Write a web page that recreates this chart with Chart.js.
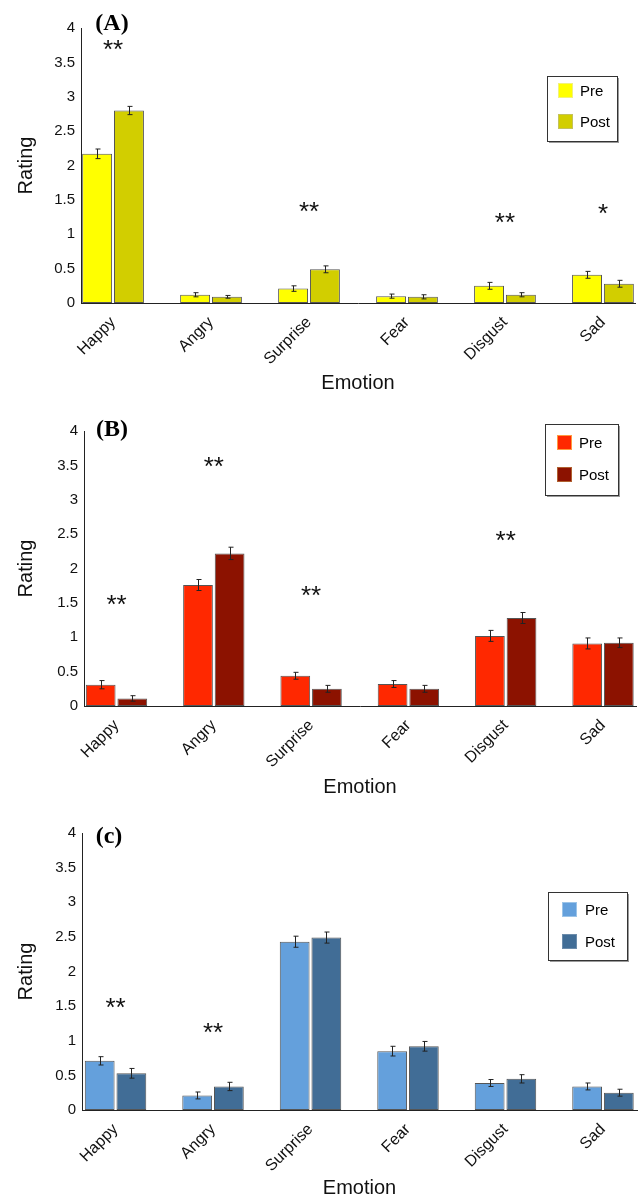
<!DOCTYPE html>
<html>
<head>
<meta charset="utf-8">
<script src="https://cdn.jsdelivr.net/npm/chart.js@4.4.1/dist/chart.umd.min.js"></script>
<style>
html,body{margin:0;padding:0;background:#fff;overflow:hidden;width:640px;height:1198px;}
.panel{position:absolute;left:0;width:640px;height:400px;}
canvas{display:block;}
</style>
</head>
<body>
<div class="panel" style="top:0"><canvas id="cA" width="640" height="400"></canvas></div>
<div class="panel" style="top:400px"><canvas id="cB" width="640" height="400"></canvas></div>
<div class="panel" style="top:800px"><canvas id="cC" width="640" height="400"></canvas></div>
<script>
// ---------- data ----------
const categories = ['Happy', 'Angry', 'Surprise', 'Fear', 'Disgust', 'Sad'];
const seriesNames = ['Pre', 'Post'];
const yTicks = [0, 0.5, 1, 1.5, 2, 2.5, 3, 3.5, 4];
const panelLabels = ['(A)', '(B)', '(c)'];
const xTitle = 'Emotion';
const yTitle = 'Rating';

const preA  = [2.17, 0.12, 0.21, 0.10, 0.25, 0.41];
const postA = [2.80, 0.09, 0.49, 0.09, 0.12, 0.28];
const errPreA  = [0.07, 0.03, 0.04, 0.03, 0.05, 0.05];
const errPostA = [0.06, 0.02, 0.05, 0.03, 0.03, 0.05];
const starsA  = ['**', '', '**', '', '**', '*'];
const starYA  = [3.72, null, 1.37, null, 1.21, 1.34];

const preB  = [0.31, 1.76, 0.44, 0.32, 1.02, 0.91];
const postB = [0.11, 2.22, 0.25, 0.25, 1.28, 0.92];
const errPreB  = [0.06, 0.08, 0.05, 0.05, 0.08, 0.08];
const errPostB = [0.04, 0.09, 0.05, 0.05, 0.08, 0.07];
const starsB  = ['**', '**', '**', '', '**', ''];
const starYB  = [1.51, 3.52, 1.65, null, 2.45, null];

const preC  = [0.71, 0.21, 2.43, 0.85, 0.39, 0.34];
const postC = [0.53, 0.34, 2.49, 0.92, 0.45, 0.25];
const errPreC  = [0.06, 0.05, 0.08, 0.07, 0.05, 0.05];
const errPostC = [0.07, 0.06, 0.08, 0.07, 0.06, 0.05];
const starsC  = ['**', '**', '', '', '', ''];
const starYC  = [1.52, 1.16, null, null, null, null];

// ---------- plugins ----------
const FONT = "'Liberation Sans', Arial, sans-serif";

const errorBarPlugin = {
  id: 'errorBars',
  afterDatasetsDraw(chart, args, opts) {
    const ctx = chart.ctx, y = chart.scales.y;
    ctx.save();
    ctx.strokeStyle = opts.color || '#222';
    ctx.lineWidth = 1;
    chart.data.datasets.forEach((ds, di) => {
      const meta = chart.getDatasetMeta(di);
      meta.data.forEach((bar, i) => {
        const v = ds.data[i].y, e = ds.errors[i];
        const x = Math.round(bar.x) + 0.5;
        const t = y.getPixelForValue(v + e), b = y.getPixelForValue(v - e);
        const c = 2;
        ctx.beginPath();
        ctx.moveTo(x, t); ctx.lineTo(x, b);
        ctx.moveTo(x - c, t); ctx.lineTo(x + c + 1, t);
        ctx.moveTo(x - c, b); ctx.lineTo(x + c + 1, b);
        ctx.stroke();
      });
    });
    ctx.restore();
  }
};

const starPlugin = {
  id: 'stars',
  afterDatasetsDraw(chart, args, opts) {
    const ctx = chart.ctx, xs = chart.scales.x, ys = chart.scales.y;
    ctx.save();
    ctx.fillStyle = '#111';
    ctx.font = opts.size + 'px ' + FONT;
    ctx.textAlign = 'center';
    ctx.textBaseline = 'alphabetic';
    opts.marks.forEach((m, i) => {
      if (!m) return;
      const px = xs.getPixelForValue(i);
      const py = ys.getPixelForValue(opts.ys[i]) + opts.size * 0.43;
      ctx.fillText(m, px, py);
    });
    ctx.restore();
  }
};

const panelLabelPlugin = {
  id: 'panelLabel',
  afterDraw(chart, args, opts) {
    const ctx = chart.ctx;
    ctx.save();
    ctx.fillStyle = '#000';
    ctx.font = 'bold 24px "Liberation Serif", "Times New Roman", serif';
    ctx.textAlign = 'center';
    ctx.textBaseline = 'middle';
    ctx.fillText(opts.text, opts.x, opts.y);
    ctx.restore();
  }
};

const boxLegendPlugin = {
  id: 'boxLegend',
  afterDraw(chart, args, opts) {
    const ctx = chart.ctx;
    const b = opts.box;
    ctx.save();
    ctx.fillStyle = '#9a9a9a';
    ctx.fillRect(b.x + 2, b.y + 2, b.w, b.h);
    ctx.fillStyle = '#fff';
    ctx.fillRect(b.x, b.y, b.w, b.h);
    ctx.strokeStyle = '#333';
    ctx.lineWidth = 1;
    ctx.strokeRect(b.x + 0.5, b.y + 0.5, b.w, b.h);
    ctx.font = '15px ' + FONT;
    ctx.textAlign = 'left';
    ctx.textBaseline = 'middle';
    chart.data.datasets.forEach((ds, i) => {
      const sy = opts.swatchY + i * opts.gap;
      ctx.fillStyle = ds.backgroundColor;
      ctx.fillRect(opts.swatchX, sy, 15, 15);
      ctx.strokeStyle = ds.swatchBorder;
      ctx.strokeRect(opts.swatchX + 0.5, sy + 0.5, 14, 14);
      ctx.fillStyle = '#000';
      ctx.fillText(ds.label, opts.textX, sy + 8.5);
    });
    ctx.restore();
  }
};

// ---------- chart builder ----------
function makeChart(id, p) {
  const datasets = [
    { label: seriesNames[0], data: p.pre.map((v, i) => ({x: i, y: v})), errors: p.errPre,
      backgroundColor: p.colors[0], swatchBorder: p.swatchBorders[0] },
    { label: seriesNames[1], data: p.post.map((v, i) => ({x: i, y: v})), errors: p.errPost,
      backgroundColor: p.colors[1], swatchBorder: p.swatchBorders[1] }
  ].map(d => Object.assign(d, {
    borderColor: '#555', borderWidth: 1, borderSkipped: false,
    categoryPercentage: 0.65, barPercentage: 0.94
  }));

  return new Chart(document.getElementById(id), {
    type: 'bar',
    data: { datasets },
    options: {
      responsive: false,
      animation: false,
      events: [],
      layout: { padding: { top: p.top, right: 640 - p.right, bottom: 0, left: 0 } },
      plugins: {
        legend: { display: false },
        tooltip: { enabled: false },
        errorBars: { color: '#222' },
        stars: { marks: p.stars, ys: p.starY, size: 26 },
        panelLabel: p.label,
        boxLegend: p.legend
      },
      scales: {
        x: {
          type: 'linear',
          offset: false,
          min: p.xmin, max: p.xmax,
          grid: { display: false, drawTicks: false },
          border: { display: true, color: '#222', width: 1 },
          afterBuildTicks: (s) => { s.ticks = categories.map((c, i) => ({ value: i })); },
          afterFit: (s) => { s.height = 400 - p.bottom; },
          ticks: {
            autoSkip: false,
            minRotation: 45, maxRotation: 45,
            padding: 10,
            color: '#111',
            font: { family: FONT, size: 16 },
            callback: (v) => categories[v]
          },
          title: {
            display: true, text: xTitle, color: '#111',
            font: { family: FONT, size: 20 },
            padding: { top: 0, bottom: p.titlePad }
          }
        },
        y: {
          min: 0, max: 4,
          grid: { display: false, drawTicks: false },
          border: { display: true, color: '#222', width: 1 },
          afterBuildTicks: (s) => { s.ticks = yTicks.map(v => ({ value: v })); },
          afterFit: (s) => { s.width = p.left; },
          ticks: {
            padding: 6,
            color: '#111',
            font: { family: FONT, size: 15 },
            callback: (v) => String(v)
          },
          title: {
            display: true, text: yTitle, color: '#111',
            font: { family: FONT, size: 20 },
            padding: { top: 14, bottom: 0 }
          }
        }
      }
    },
    plugins: [errorBarPlugin, starPlugin, panelLabelPlugin, boxLegendPlugin]
  });
}

makeChart('cA', {
  pre: preA, post: postA, errPre: errPreA, errPost: errPostA, stars: starsA, starY: starYA,
  colors: ['#FFFF00', '#D2CE00'], swatchBorders: ['#f2f27a', '#c4c25a'],
  top: 28, bottom: 303, left: 81, right: 635, xmin: -0.327, xmax: 5.327, titlePad: 5,
  label: { text: panelLabels[0], x: 112, y: 24 },
  legend: { box: { x: 547, y: 76, w: 70, h: 65 }, swatchX: 558, swatchY: 83, gap: 31, textX: 580 }
});

makeChart('cB', {
  pre: preB, post: postB, errPre: errPreB, errPost: errPostB, stars: starsB, starY: starYB,
  colors: ['#FF2800', '#8C1200'], swatchBorders: ['#ff9a40', '#b06030'],
  top: 31, bottom: 306, left: 84, right: 636, xmin: -0.334, xmax: 5.339, titlePad: 1,
  label: { text: panelLabels[1], x: 112, y: 30 },
  legend: { box: { x: 545, y: 24, w: 73, h: 71 }, swatchX: 557, swatchY: 35, gap: 32, textX: 579 }
});

makeChart('cC', {
  pre: preC, post: postC, errPre: errPreC, errPost: errPostC, stars: starsC, starY: starYC,
  colors: ['#64A0DC', '#416D96'], swatchBorders: ['#9cc4e8', '#6c8cab'],
  top: 33, bottom: 310, left: 82, right: 637, xmin: -0.344, xmax: 5.349, titlePad: 0,
  label: { text: panelLabels[2], x: 109, y: 37 },
  legend: { box: { x: 548, y: 92, w: 79, h: 68 }, swatchX: 562, swatchY: 102, gap: 32, textX: 585 }
});
</script>
</body>
</html>
